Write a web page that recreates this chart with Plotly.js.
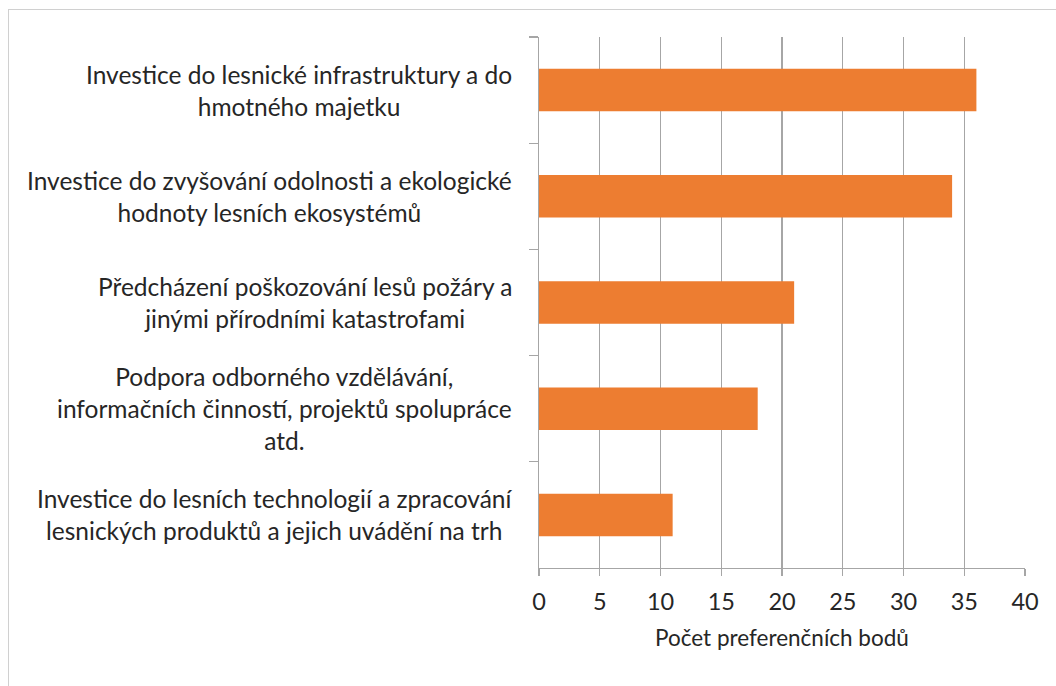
<!DOCTYPE html>
<html>
<head>
<meta charset="utf-8">
<script src="https://cdn.plot.ly/plotly-3.0.1.min.js"></script>
<style>
html,body{margin:0;padding:0;background:#fff;}
#wrap{position:relative;width:1056px;height:686px;overflow:hidden;}
#chart{width:1056px;height:686px;}
#frame{position:absolute;left:8px;top:9px;width:1060px;height:690px;border:1.5px solid #d0d0d0;box-sizing:border-box;pointer-events:none;}
</style>
</head>
<body>
<div id="wrap"><div id="chart"></div><div id="frame"></div></div>
<script>
const categories = [
  "Investice do lesnické infrastruktury a do<br>hmotného majetku",
  "Investice do zvyšování odolnosti a ekologické<br>hodnoty lesních ekosystémů",
  "Předcházení poškozování lesů požáry a<br>jinými přírodními katastrofami",
  "Podpora odborného vzdělávání,<br>informačních činností, projektů spolupráce<br>atd.",
  "Investice do lesních technologií a zpracování<br>lesnických produktů a jejich uvádění na trh"
];
const values = [36, 34, 21, 18, 11];
const xTicks = [0, 5, 10, 15, 20, 25, 30, 35, 40];
const xTitle = "Počet preferenčních bodů";

const FONT = "Lato, 'Open Sans', sans-serif";
const TXT = "#262626";
const GRID = "#a6a6a6";

const trace = {
  type: "bar",
  orientation: "h",
  x: values,
  y: categories,
  marker: {color: "#ED7D31", line: {width: 0}},
  hoverinfo: "none"
};

const annotations = categories.map((c, i) => ({
  xref: "paper", yref: "y",
  x: (514 - 539) / 486, y: c,
  xanchor: "right", yanchor: "middle",
  align: "center",
  text: c,
  showarrow: false,
  font: {family: FONT, size: 24.5, color: TXT}
}));

const layout = {
  width: 1056, height: 686,
  margin: {l: 539, r: 31, t: 37, b: 118},
  paper_bgcolor: "#fff", plot_bgcolor: "#fff",
  showlegend: false,
  bargap: 0.6,
  font: {family: FONT, size: 23, color: TXT},
  xaxis: {
    range: [0, 40],
    tickvals: xTicks,
    ticktext: xTicks.map(String),
    showgrid: true, gridcolor: GRID, gridwidth: 1.3,
    showline: true, linecolor: GRID, linewidth: 1.3,
    ticks: "outside", ticklen: 7, tickcolor: GRID, tickwidth: 1.3,
    ticklabelstandoff: 5,
    tickfont: {family: FONT, size: 23.5, color: TXT},
    zeroline: false,
    title: {text: xTitle, font: {family: FONT, size: 22.5, color: TXT}, standoff: 16}
  },
  yaxis: {
    type: "category",
    autorange: "reversed",
    showticklabels: false,
    showgrid: false,
    showline: true, linecolor: GRID, linewidth: 1.3,
    ticks: "outside", ticklen: 9, tickcolor: GRID, tickwidth: 1.3,
    tickson: "boundaries",
    zeroline: false
  },
  annotations: annotations
};

Plotly.newPlot("chart", [trace], layout, {staticPlot: true, displayModeBar: false});
</script>
</body>
</html>
